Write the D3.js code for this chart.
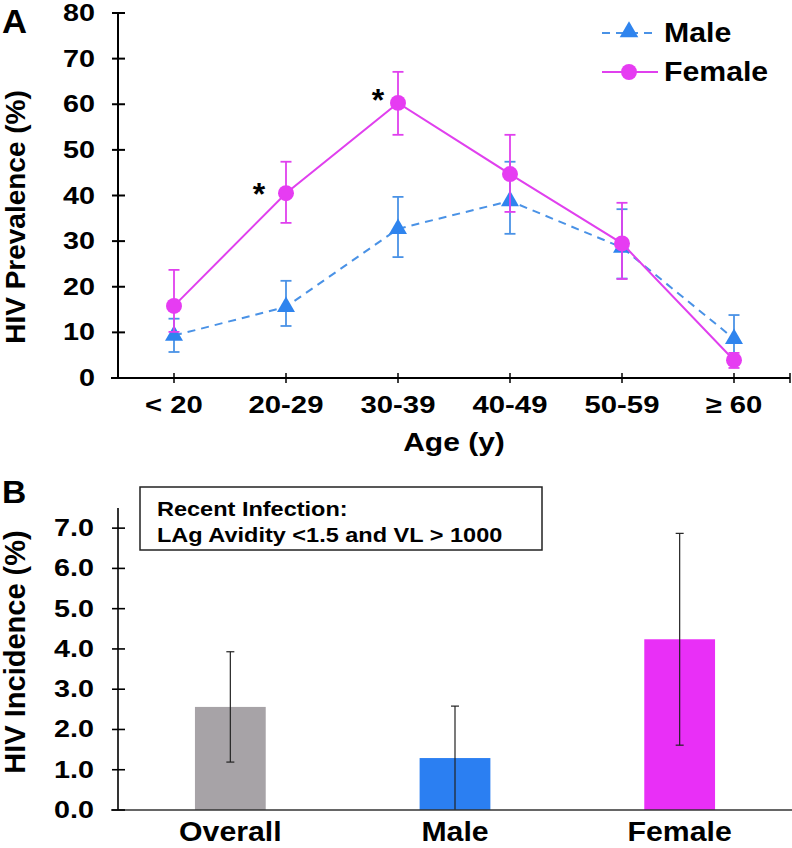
<!DOCTYPE html>
<html>
<head>
<meta charset="utf-8">
<script src="https://cdn.jsdelivr.net/npm/d3@7/dist/d3.min.js"></script>
<style>
  html, body { margin: 0; padding: 0; background: #fff; }
  svg { display: block; }
  text { font-family: "Liberation Sans", Arial, Helvetica, sans-serif; font-weight: bold; fill: #000; }
</style>
</head>
<body>
<svg id="chart" width="792" height="848"></svg>
<script>
// ---------- Panel A data ----------
const ageGroups  = ["< 20", "20-29", "30-39", "40-49", "50-59", "\u2265 60"];
const maleMean   = [9.3, 15.6, 32.7, 38.8, 28.6, 8.6];
const maleLow    = [5.7, 11.4, 26.5, 31.6, 21.8, 4.5];
const maleHigh   = [13.0, 21.3, 39.7, 47.4, 37.0, 13.8];
const femaleMean = [15.8, 40.5, 60.3, 44.7, 29.5, 3.9];
const femaleLow  = [10.1, 34.0, 53.3, 36.4, 21.7, 2.2];
const femaleHigh = [23.7, 47.4, 67.1, 53.3, 38.4, 5.5];
const prevTicks  = [0, 10, 20, 30, 40, 50, 60, 70, 80];
const sigMarks   = ["20-29", "30-39"];   // asterisks (Female vs Male)

// ---------- Panel B data ----------
const incGroups  = ["Overall", "Male", "Female"];
const incidence  = [2.56, 1.29, 4.24];
const incLow     = [1.19, 0.0, 1.61];
const incHigh    = [3.93, 2.58, 6.87];
const incTicks   = [0, 1, 2, 3, 4, 5, 6, 7];
const boxLines   = ["Recent Infection:", "LAg Avidity <1.5 and VL > 1000"];

// ---------- styles ----------
const C = {
  male: "#2f84ee", maleLine: "#4a92e6",
  female: "#e63cf2", femaleLine: "#e040ee",
  barColors: ["#a7a3a7", "#2b7ff2", "#e92ff7"]
};

const svg = d3.select("#chart");

// helper: text with horizontal stretch
function stext(g, x, y, str, o) {
  const t = g.append("text")
    .attr("text-anchor", o.anchor || "start")
    .style("font-size", o.size + "px")
    .text(str);
  const sx = o.sx || 1;
  const rot = o.rotate ? ` rotate(${o.rotate})` : "";
  t.attr("transform", `translate(${x},${y})${rot} scale(${sx},1)`);
  return t;
}

// ================= PANEL A =================
const A = { left: 118, right: 790, top: 13, bottom: 378 };
const xA = d3.scaleBand().domain(ageGroups).range([A.left, A.right]).padding(0);
const xc = d => xA(d) + xA.bandwidth() / 2;
const yA = d3.scaleLinear().domain([0, 80]).range([A.bottom, A.top]);

const gA = svg.append("g");

// axes
gA.append("line").attr("x1", A.left).attr("x2", A.left).attr("y1", yA(80)).attr("y2", yA(0))
  .attr("stroke", "#000").attr("stroke-width", 2);
gA.append("line").attr("x1", A.left - 7).attr("x2", A.right).attr("y1", yA(0)).attr("y2", yA(0))
  .attr("stroke", "#000").attr("stroke-width", 2);
prevTicks.forEach(v => {
  gA.append("line").attr("x1", A.left - 6).attr("x2", A.left + 7).attr("y1", yA(v)).attr("y2", yA(v))
    .attr("stroke", "#000").attr("stroke-width", 2);
  stext(gA, 95, yA(v) + 8, d3.format("d")(v), { size: 23, anchor: "end", sx: 1.25 });
});
const xTickPos = ageGroups.map(xc).concat([A.right]);
xTickPos.forEach(px => {
  gA.append("line").attr("x1", px).attr("x2", px).attr("y1", yA(0) - 5).attr("y2", yA(0) + 5)
    .attr("stroke", "#000").attr("stroke-width", 1.5);
});
ageGroups.forEach(d => stext(gA, xc(d), 413, d, { size: 24, anchor: "middle", sx: 1.22 }));
stext(gA, (A.left + A.right) / 2, 451, "Age (y)", { size: 25, anchor: "middle", sx: 1.2 });
stext(gA, 25, 217, "HIV Prevalence (%)", { size: 28, anchor: "middle", rotate: -90 });
stext(gA, 2, 33, "A", { size: 33, anchor: "start", sx: 1.05 });

// series
function drawSeries(mean, low, high, color, lineColor, dashed, marker) {
  const pts = ageGroups.map((d, i) => ({ x: xc(d), m: mean[i], lo: low[i], hi: high[i] }));
  gA.append("path").datum(pts)
    .attr("d", d3.line().x(p => p.x).y(p => yA(p.m)))
    .attr("fill", "none").attr("stroke", lineColor).attr("stroke-width", 2)
    .attr("stroke-dasharray", dashed ? "8,6" : null);
  const eg = gA.append("g").attr("stroke", lineColor).attr("stroke-width", 1.8);
  pts.forEach(p => {
    eg.append("line").attr("x1", p.x).attr("x2", p.x).attr("y1", yA(p.lo)).attr("y2", yA(p.hi));
    [p.lo, p.hi].forEach(v => eg.append("line").attr("x1", p.x - 5.5).attr("x2", p.x + 5.5)
      .attr("y1", yA(v)).attr("y2", yA(v)));
  });
  pts.forEach(p => {
    gA.append("path").attr("d", d3.symbol().type(marker).size(marker === d3.symbolCircle ? 200 : 140)())
      .attr("transform", `translate(${p.x},${yA(p.m)})`).attr("fill", color);
  });
}
drawSeries(maleMean, maleLow, maleHigh, C.male, C.maleLine, true, d3.symbolTriangle);
drawSeries(femaleMean, femaleLow, femaleHigh, C.female, C.femaleLine, false, d3.symbolCircle);

// asterisks
sigMarks.forEach((d, k) => {
  const i = ageGroups.indexOf(d);
  const off = k === 0 ? [-27, 12] : [-20, 8];
  stext(gA, xc(d) + off[0], yA(femaleMean[i]) + off[1], "*", { size: 32, anchor: "middle" });
});

// legend
const lg = gA.append("g");
lg.append("line").attr("x1", 602).attr("x2", 657).attr("y1", 33).attr("y2", 33)
  .attr("stroke", C.maleLine).attr("stroke-width", 2).attr("stroke-dasharray", "8,6");
lg.append("path").attr("d", d3.symbol().type(d3.symbolTriangle).size(150)())
  .attr("transform", "translate(629,32)").attr("fill", C.male);
stext(lg, 664, 42, "Male", { size: 28, sx: 1.08 });
lg.append("line").attr("x1", 602).attr("x2", 658).attr("y1", 72).attr("y2", 72)
  .attr("stroke", C.femaleLine).attr("stroke-width", 2);
lg.append("path").attr("d", d3.symbol().type(d3.symbolCircle).size(200)())
  .attr("transform", "translate(629,72)").attr("fill", C.female);
stext(lg, 664, 81, "Female", { size: 28, sx: 1.08 });

// ================= PANEL B =================
const B = { left: 118, right: 792, top: 508, bottom: 810 };
const xB = d3.scaleBand().domain(incGroups).range([B.left, B.right]).padding(0);
const yB = d3.scaleLinear().domain([0, 7.5]).range([B.bottom, B.top]);
const barW = xB.bandwidth() * 0.315;
const gB = svg.append("g");

// bars
incGroups.forEach((d, i) => {
  const cx = xB(d) + xB.bandwidth() / 2;
  gB.append("rect").attr("x", cx - barW / 2).attr("width", barW)
    .attr("y", yB(incidence[i])).attr("height", yB(0) - yB(incidence[i]))
    .attr("fill", C.barColors[i]);
});
// error bars
incGroups.forEach((d, i) => {
  const cx = xB(d) + xB.bandwidth() / 2;
  gB.append("line").attr("x1", cx).attr("x2", cx).attr("y1", yB(incLow[i])).attr("y2", yB(incHigh[i]))
    .attr("stroke", "#222").attr("stroke-width", 1.2);
  [incLow[i], incHigh[i]].forEach(v => {
    if (v > 0) gB.append("line").attr("x1", cx - 4).attr("x2", cx + 4).attr("y1", yB(v)).attr("y2", yB(v))
      .attr("stroke", "#222").attr("stroke-width", 1.2);
  });
});
// axes
gB.append("line").attr("x1", B.left).attr("x2", B.left).attr("y1", B.top).attr("y2", yB(0))
  .attr("stroke", "#000").attr("stroke-width", 1.6);
gB.append("line").attr("x1", B.left - 7).attr("x2", B.right).attr("y1", yB(0)).attr("y2", yB(0))
  .attr("stroke", "#333").attr("stroke-width", 1.6);
incTicks.forEach(v => {
  gB.append("line").attr("x1", B.left - 6).attr("x2", B.left + 7).attr("y1", yB(v)).attr("y2", yB(v))
    .attr("stroke", "#000").attr("stroke-width", 1.6);
  stext(gB, 94, yB(v) + 8, d3.format(".1f")(v), { size: 23, anchor: "end", sx: 1.25 });
});
incGroups.forEach(d => stext(gB, xB(d) + xB.bandwidth() / 2, 841, d, { size: 27, anchor: "middle", sx: 1.12 }));
stext(gB, 25, 652, "HIV Incidence (%)", { size: 29, anchor: "middle", rotate: -90 });
stext(gB, 2, 503, "B", { size: 32, anchor: "start", sx: 1.05 });

// annotation box
gB.append("rect").attr("x", 140).attr("y", 487).attr("width", 402).attr("height", 63)
  .attr("fill", "#fff").attr("stroke", "#222").attr("stroke-width", 1.5);
stext(gB, 157, 516, boxLines[0], { size: 21, sx: 1.12 });
stext(gB, 157, 542, boxLines[1], { size: 21, sx: 1.12 });
</script>
</body>
</html>
